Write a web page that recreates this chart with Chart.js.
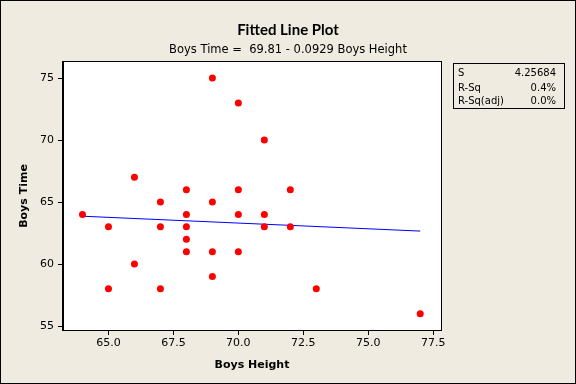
<!DOCTYPE html>
<html>
<head>
    <title>Fitted Line Plot</title>
    <script src="https://cdn.jsdelivr.net/npm/chart.js"></script>
    <style>
        body { margin: 0; background: #fff; }
        #wrap { position: relative; width: 576px; height: 384px; background: #efebe0; }
        #wrap canvas { position: absolute; left: 0; top: 0; }
        .title { position: absolute; left: 0; width: 576px; text-align: center; color: #000; }
        #t1 { top: 20px; font: bold 15px Lato, "DejaVu Sans", sans-serif; line-height: 18px; }
        #t2 { top: 41px; font: 11.5px "DejaVu Sans", sans-serif; line-height: 16px; }
        #stats {
            position: absolute; left: 453px; top: 63px; width: 110px; height: 44px;
            border: 1px solid #000; font: 10px "DejaVu Sans", sans-serif; color: #000;
        }
        #stats div { position: absolute; left: 4px; right: 8px; height: 13px; line-height: 13px; }
        #stats span { float: right; }
    </style>
</head>
<body>
    <div id="wrap">
        <canvas id="fitChart" width="576" height="384"></canvas>
        <div class="title" id="t1">Fitted Line Plot</div>
        <div class="title" id="t2">Boys Time =&nbsp; 69.81 - 0.0929 Boys Height</div>
        <div id="stats">
            <div style="top:2px">S<span>4.25684</span></div>
            <div style="top:17px">R-Sq<span>0.4%</span></div>
            <div style="top:30px">R-Sq(adj)<span>0.0%</span></div>
        </div>
    </div>

    <script>
        // observed points (height, time)
        const boysHeight = [64, 65, 65, 66, 66, 67, 67, 67, 68, 68, 68, 68, 68, 69, 69, 69, 69, 70, 70, 70, 70, 71, 71, 71, 72, 72, 73, 77];
        const boysTime   = [64, 63, 58, 67, 60, 65, 63, 58, 66, 64, 63, 62, 61, 75, 65, 61, 59, 73, 66, 64, 61, 70, 64, 63, 66, 63, 58, 56];

        // fitted line end points
        const fitX = [64, 77];
        const fitY = [63.86, 62.66];

        const xTicks = [65.0, 67.5, 70.0, 72.5, 75.0, 77.5];
        const yTicks = [55, 60, 65, 70, 75];

        const tickFont = { family: 'DejaVu Sans', size: 11 };
        const axisTitleFont = { family: 'DejaVu Sans', size: 11, weight: 'bold' };

        // white plot area, black frame round plot and round the whole picture
        const framePlugin = {
            id: 'frame',
            beforeDraw(chart) {
                const { ctx, chartArea: a } = chart;
                ctx.save();
                ctx.fillStyle = '#ffffff';
                ctx.fillRect(a.left, a.top, a.right - a.left, a.bottom - a.top);
                ctx.restore();
            },
            afterDraw(chart) {
                const { ctx, chartArea: a } = chart;
                ctx.save();
                ctx.strokeStyle = '#000';
                ctx.lineWidth = 1;
                ctx.strokeRect(Math.round(a.left) - 0.5, Math.round(a.top) - 0.5,
                    Math.round(a.right - a.left) + 1, Math.round(a.bottom - a.top) + 1);
                ctx.strokeRect(0.5, 0.5, chart.width - 1, chart.height - 1);
                ctx.restore();
            }
        };

        const ctx = document.getElementById('fitChart').getContext('2d');
        const fitChart = new Chart(ctx, {
            type: 'scatter',
            data: {
                datasets: [{
                    label: 'Boys Time',
                    data: boysHeight.map((h, i) => ({ x: h, y: boysTime[i] })),
                    backgroundColor: '#ff0000',
                    borderColor: '#ff0000',
                    pointRadius: 3.5,
                    pointBorderWidth: 0
                }, {
                    type: 'line',
                    label: 'Fit',
                    data: fitX.map((x, i) => ({ x: x, y: fitY[i] })),
                    borderColor: '#0000ff',
                    borderWidth: 1,
                    pointRadius: 0,
                    fill: false
                }]
            },
            options: {
                responsive: false,
                animation: false,
                layout: { padding: { top: 62, left: 0, right: 135, bottom: 0 } },
                plugins: {
                    legend: { display: false },
                    tooltip: { enabled: false }
                },
                scales: {
                    x: {
                        type: 'linear',
                        min: 63.25,
                        max: 77.8,
                        afterFit(scale) { scale.height = 54; },
                        afterBuildTicks(scale) { scale.ticks = xTicks.map(v => ({ value: v })); },
                        ticks: {
                            color: '#000',
                            font: tickFont,
                            padding: 2,
                            maxRotation: 0,
                            callback: v => Number(v).toFixed(1)
                        },
                        grid: { drawOnChartArea: false, color: '#000', tickLength: 5 },
                        border: { color: '#000' },
                        title: {
                            display: true,
                            text: 'Boys Height',
                            color: '#000',
                            font: axisTitleFont,
                            padding: { top: 0, bottom: 12 }
                        }
                    },
                    y: {
                        type: 'linear',
                        min: 54.68,
                        max: 76.3,
                        afterFit(scale) { scale.width = 63; },
                        afterBuildTicks(scale) { scale.ticks = yTicks.map(v => ({ value: v })); },
                        ticks: {
                            color: '#000',
                            font: tickFont,
                            padding: 4
                        },
                        grid: { drawOnChartArea: false, color: '#000', tickLength: 5 },
                        border: { color: '#000' },
                        title: {
                            display: true,
                            text: 'Boys Time',
                            color: '#000',
                            font: axisTitleFont,
                            padding: { top: 18, bottom: 0 }
                        }
                    }
                }
            },
            plugins: [framePlugin]
        });
    </script>
</body>
</html>
